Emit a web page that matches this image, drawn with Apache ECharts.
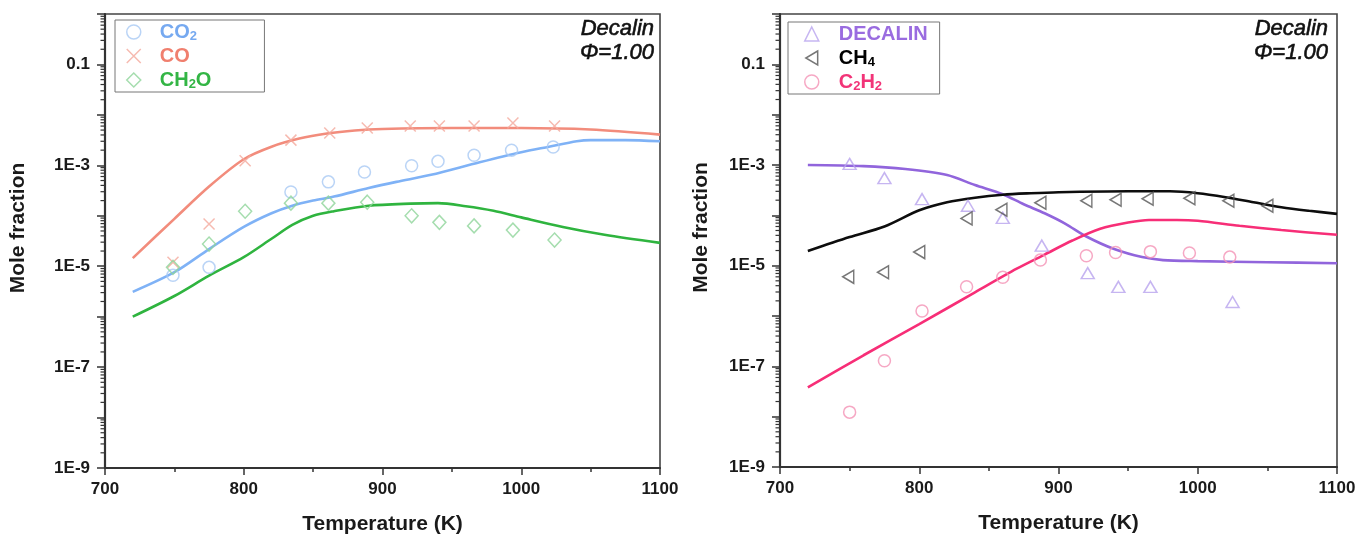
<!DOCTYPE html>
<html>
<head>
<meta charset="utf-8">
<script src="https://cdn.jsdelivr.net/npm/echarts@6/dist/echarts.min.js"></script>
<style>
  html, body { margin: 0; padding: 0; background: #fff; }
  #chart { width: 1370px; height: 541px; }
</style>
</head>
<body>
<div id="chart"></div>
<script>
// ---- Axis ticks ----
const tempTicks = [700, 800, 900, 1000, 1100];
const labelDecades = [-9, -7, -5, -3, -1];

// ---- Left panel: measured points (T in K, mole fraction) ----
const expT_CO2 = [749, 775, 834, 861, 887, 921, 940, 966, 993, 1023];
const expCO2 = [6.6e-6, 9.5e-6, 2.95e-4, 4.7e-4, 7.4e-4, 9.8e-4, 1.2e-3, 1.58e-3, 2.0e-3, 2.3e-3];
const expT_CO = [749, 775, 801, 834, 862, 889, 920, 941, 966, 994, 1024];
const expCO = [1.2e-5, 6.9e-5, 1.23e-3, 3.16e-3, 4.37e-3, 5.5e-3, 6.0e-3, 6.0e-3, 6.0e-3, 6.9e-3, 6.0e-3];
const expT_CH2O = [749, 775, 801, 834, 861, 889, 921, 941, 966, 994, 1024];
const expCH2O = [9.5e-6, 2.75e-5, 1.23e-4, 1.78e-4, 1.78e-4, 1.86e-4, 1.0e-4, 7.4e-5, 6.3e-5, 5.2e-5, 3.3e-5];

// ---- Left panel: model curves ----
const modT_CO2 = [720, 750, 775, 800, 820, 835, 850, 865, 890, 910, 935, 970, 1000, 1020, 1040, 1050, 1075, 1100];
const modCO2 = [3.1e-6, 7.6e-6, 2.19e-5, 6.0e-5, 1.12e-4, 1.58e-4, 2.0e-4, 2.4e-4, 3.55e-4, 4.7e-4, 6.5e-4, 1.15e-3, 1.82e-3, 2.34e-3, 3.0e-3, 3.16e-3, 3.16e-3, 3.0e-3];
const modT_CO = [720, 750, 775, 800, 820, 840, 860, 880, 900, 950, 1000, 1050, 1100];
const modCO = [1.45e-5, 8.7e-5, 3.8e-4, 1.32e-3, 2.34e-3, 3.39e-3, 4.27e-3, 4.9e-3, 5.25e-3, 5.5e-3, 5.5e-3, 5.13e-3, 4.07e-3];
const modT_CH2O = [720, 750, 775, 800, 820, 835, 850, 865, 890, 920, 940, 960, 980, 1000, 1030, 1060, 1100];
const modCH2O = [1.0e-6, 2.57e-6, 6.5e-6, 1.51e-5, 3.5e-5, 6.6e-5, 1.0e-4, 1.23e-4, 1.58e-4, 1.74e-4, 1.78e-4, 1.55e-4, 1.26e-4, 9.3e-5, 6.0e-5, 4.2e-5, 2.9e-5];

// ---- Right panel: measured points ----
const expT_DEC = [750, 775, 802, 835, 860, 888, 921, 943, 966, 1025];
const expDEC = [1.05e-3, 5.5e-4, 2.1e-4, 1.55e-4, 8.9e-5, 2.5e-5, 7.1e-6, 3.8e-6, 3.8e-6, 1.9e-6];
const expT_CH4 = [749, 774, 800, 834, 859, 887, 920, 941, 964, 994, 1022, 1050];
const expCH4 = [6.0e-6, 7.4e-6, 1.86e-5, 8.7e-5, 1.29e-4, 1.78e-4, 1.95e-4, 2.04e-4, 2.14e-4, 2.19e-4, 1.95e-4, 1.55e-4];
const expT_C2H2 = [750, 775, 802, 834, 860, 887, 920, 941, 966, 994, 1023];
const expC2H2 = [1.23e-8, 1.29e-7, 1.26e-6, 3.8e-6, 5.9e-6, 1.29e-5, 1.58e-5, 1.82e-5, 1.9e-5, 1.78e-5, 1.48e-5];

// ---- Right panel: model curves ----
const modT_DEC = [720, 760, 790, 820, 840, 860, 875, 890, 905, 920, 940, 960, 975, 1000, 1050, 1100];
const modDEC = [1.0e-3, 9.5e-4, 8.3e-4, 6.3e-4, 4.0e-4, 2.63e-4, 1.66e-4, 1.1e-4, 6.8e-5, 3.8e-5, 2.14e-5, 1.48e-5, 1.29e-5, 1.23e-5, 1.17e-5, 1.12e-5];
const modT_CH4 = [720, 750, 775, 800, 820, 840, 860, 880, 900, 950, 980, 1000, 1020, 1040, 1060, 1080, 1100];
const modCH4 = [1.95e-5, 3.7e-5, 6.0e-5, 1.26e-4, 1.82e-4, 2.24e-4, 2.57e-4, 2.75e-4, 2.88e-4, 3.0e-4, 3.0e-4, 2.75e-4, 2.29e-4, 1.82e-4, 1.45e-4, 1.23e-4, 1.07e-4];
const modT_C2H2 = [720, 760, 800, 840, 870, 890, 910, 930, 950, 965, 985, 1000, 1030, 1060, 1100];
const modC2H2 = [3.8e-8, 1.66e-7, 6.9e-7, 2.95e-6, 8.7e-6, 1.66e-5, 3.16e-5, 5.4e-5, 7.2e-5, 8.1e-5, 8.1e-5, 7.8e-5, 6.2e-5, 5.1e-5, 4.1e-5];

// ---- Styling ----
const FONT = '"Liberation Sans", Arial, Helvetica, sans-serif';
const INK = '#1a1a1a';
const C = {
  co2:  { line: '#7fb2f6', mark: '#a9c9f4', text: '#76a9f0' },
  co:   { line: '#f28c7c', mark: '#f4a99c', text: '#f07f6e' },
  ch2o: { line: '#2fb43f', mark: '#8fd49a', text: '#33b545' },
  dec:  { line: '#9165dc', mark: '#b8a2ee', text: '#9a6ce0' },
  ch4:  { line: '#0d0d0d', mark: '#555555', text: '#000000' },
  c2h2: { line: '#f72e77', mark: '#f492b5', text: '#f23478' }
};
const X_MARK = 'path://M0,0L10,10M10,0L0,10';
const LEFT_TRI = 'path://M11,0L0,6.5L11,13Z';

const pairs = (xs, ys) => xs.map((x, i) => [x, ys[i]]);

function decadeLabel(v) {
  const e = Math.round(Math.log10(v));
  if (!labelDecades.includes(e)) return '';
  return e === -1 ? '0.1' : '1E' + e;
}

function modelLine(name, idx, xs, ys, color) {
  return {
    name: name, type: 'line', xAxisIndex: idx, yAxisIndex: idx,
    data: pairs(xs, ys), showSymbol: false, smooth: 0.3,
    lineStyle: { color: color, width: 2.6 }, itemStyle: { color: color },
    z: 2, silent: true
  };
}
function points(name, idx, xs, ys, color, symbol, size, rotate) {
  return {
    name: name, type: 'scatter', xAxisIndex: idx, yAxisIndex: idx,
    data: pairs(xs, ys), symbol: symbol, symbolSize: size, symbolRotate: rotate || 0,
    itemStyle: { color: 'rgba(0,0,0,0)', borderColor: color, borderWidth: 1.5 },
    z: 3, silent: true
  };
}

function xAxisFor(idx) {
  return {
    type: 'value', gridIndex: idx, min: tempTicks[0], max: tempTicks[tempTicks.length - 1], interval: 100,
    axisLine: { show: true, lineStyle: { color: '#333', width: 2 } },
    axisTick: { show: true, inside: false, length: 7, lineStyle: { color: '#333', width: 1.5 } },
    minorTick: { show: true, splitNumber: 2, length: 4, lineStyle: { color: '#333', width: 1.5 } },
    splitLine: { show: false }, minorSplitLine: { show: false },
    axisLabel: { formatter: v => String(v), fontSize: 17, fontWeight: 'bold', color: INK, fontFamily: FONT, margin: 13 },
    name: 'Temperature (K)', nameLocation: 'middle', nameGap: 46,
    nameTextStyle: { fontSize: 21, fontWeight: 'bold', color: INK, fontFamily: FONT }
  };
}
function yAxisFor(idx, gap) {
  return {
    type: 'log', logBase: 10, gridIndex: idx, min: 1e-9, max: 1, splitNumber: 9,
    axisLine: { show: true, lineStyle: { color: '#333', width: 2.2 } },
    axisTick: { show: true, inside: false, length: 8, lineStyle: { color: '#333', width: 1.5 } },
    splitLine: { show: false },
    axisLabel: { formatter: decadeLabel, fontSize: 17, fontWeight: 'bold', color: INK, fontFamily: FONT, margin: 15 },
    name: 'Mole fraction', nameLocation: 'middle', nameGap: gap,
    nameTextStyle: { fontSize: 21, fontWeight: 'bold', color: INK, fontFamily: FONT, padding: [0, 0, 0, 26] }
  };
}

// Legend labels with subscripts
const legendText = {
  'CO2': '{a|CO}{as|2}',
  'CO': '{b|CO}',
  'CH2O': '{c|CH}{cs|2}{c|O}',
  'DECALIN': '{d|DECALIN}',
  'CH4': '{e|CH}{es|4}',
  'C2H2': '{f|C}{fs|2}{f|H}{fs|2}'
};
function richPair(color) {
  return [
    { color: color, fontSize: 20, fontWeight: 'bold', fontFamily: FONT, lineHeight: 22 },
    { color: color, fontSize: 13, fontWeight: 'bold', fontFamily: FONT, lineHeight: 14, verticalAlign: 'bottom' }
  ];
}
const rich = {};
[['a', C.co2], ['b', C.co], ['c', C.ch2o], ['d', C.dec], ['e', C.ch4], ['f', C.c2h2]].forEach(([k, c]) => {
  const [main, sub] = richPair(c.text);
  rich[k] = main; rich[k + 's'] = sub;
});

function legendFor(items, left, top, padding, textPad) {
  return {
    show: true, orient: 'vertical', left: left, top: top, data: items,
    itemWidth: 14, itemHeight: 14, itemGap: 2, padding: padding,
    borderColor: '#777', borderWidth: 1, selectedMode: false,
    itemStyle: { borderWidth: 1.5 },
    formatter: n => legendText[n],
    textStyle: { padding: [0, 0, 0, textPad], lineHeight: 22, fontSize: 20, fontWeight: 'bold', fontFamily: FONT, rich: rich }
  };
}

const chart = echarts.init(document.getElementById('chart'), null, { renderer: 'canvas' });

chart.setOption({
  animation: false,
  backgroundColor: '#fff',
  grid: [
    { left: 105, right: 710, top: 14, bottom: 73, show: true, borderColor: '#444', borderWidth: 1.6 },
    { left: 780, right: 33, top: 14, bottom: 74, show: true, borderColor: '#444', borderWidth: 1.6 }
  ],
  xAxis: [xAxisFor(0), xAxisFor(1)],
  yAxis: [yAxisFor(0, 76), yAxisFor(1, 68)],
  legend: [
    legendFor(['CO2', 'CO', 'CH2O'], 115, 20, [1, 53, 1, 11], 14),
    legendFor(['DECALIN', { name: 'CH4', icon: LEFT_TRI }, 'C2H2'], 788, 22, [1, 12, 1, 16], 15)
  ],
  series: [
    modelLine('CO2 model', 0, modT_CO2, modCO2, C.co2.line),
    modelLine('CO model', 0, modT_CO, modCO, C.co.line),
    modelLine('CH2O model', 0, modT_CH2O, modCH2O, C.ch2o.line),
    points('CO2', 0, expT_CO2, expCO2, C.co2.mark, 'circle', 12),
    points('CO', 0, expT_CO, expCO, C.co.mark, X_MARK, 11),
    points('CH2O', 0, expT_CH2O, expCH2O, C.ch2o.mark, 'diamond', [13, 14]),

    modelLine('DECALIN model', 1, modT_DEC, modDEC, C.dec.line),
    modelLine('CH4 model', 1, modT_CH4, modCH4, C.ch4.line),
    modelLine('C2H2 model', 1, modT_C2H2, modC2H2, C.c2h2.line),
    points('DECALIN', 1, expT_DEC, expDEC, C.dec.mark, 'triangle', [13, 11]),
    points('CH4', 1, expT_CH4, expCH4, C.ch4.mark, 'triangle', [13, 11], 90),
    points('C2H2', 1, expT_C2H2, expC2H2, C.c2h2.mark, 'circle', 12)
  ]
});

// Minor log ticks (2..9 within each decade) and the panel annotations
function minorLogTicks(gridIndex) {
  const els = [];
  for (let k = -9; k < 0; k++) {
    for (let m = 2; m <= 9; m++) {
      const p = chart.convertToPixel({ gridIndex: gridIndex }, [tempTicks[0], m * Math.pow(10, k)]);
      els.push({
        type: 'line', silent: true, z: 5,
        shape: { x1: p[0] - 4.5, y1: p[1], x2: p[0], y2: p[1] },
        style: { stroke: '#333', lineWidth: 1.2 }
      });
    }
  }
  return els;
}
function annotation(gridIndex, xRight) {
  const top = chart.convertToPixel({ gridIndex: gridIndex }, [tempTicks[0], 1])[1];
  return {
    type: 'text', silent: true, z: 5, x: xRight, y: top + 3,
    style: {
      text: 'Decalin\nΦ=1.00', align: 'right', verticalAlign: 'top', lineHeight: 24,
      font: 'italic 22px ' + FONT, fill: '#111', stroke: '#111', lineWidth: 0.6
    }
  };
}

chart.setOption({
  graphic: [].concat(
    minorLogTicks(0), minorLogTicks(1),
    [annotation(0, 654), annotation(1, 1328)]
  )
});
</script>
</body>
</html>
